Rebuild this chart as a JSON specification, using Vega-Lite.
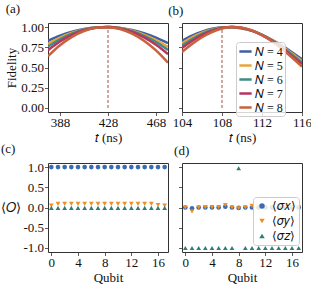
{
 "$schema": "https://vega.github.io/schema/vega-lite/v6.json",
 "padding": {"left": 0, "top": 2, "right": 0, "bottom": 2},
 "background": "white",
 "bounds": "flush",
 "columns": 2,
 "spacing": {"row": 51, "column": 14},
 "datasets": {
  "fa": [
   {"t":378,"F":0.83,"N":4},{"t":388,"F":0.893,"N":4},{"t":398,"F":0.942,"N":4},{"t":408,"F":0.976,"N":4},{"t":418,"F":0.995,"N":4},{"t":428,"F":1.0,"N":4},{"t":438,"F":0.989,"N":4},{"t":448,"F":0.964,"N":4},{"t":458,"F":0.924,"N":4},{"t":468,"F":0.869,"N":4},{"t":478,"F":0.80,"N":4},
   {"t":378,"F":0.79,"N":5},{"t":388,"F":0.869,"N":5},{"t":398,"F":0.929,"N":5},{"t":408,"F":0.971,"N":5},{"t":418,"F":0.994,"N":5},{"t":428,"F":1.0,"N":5},{"t":438,"F":0.987,"N":5},{"t":448,"F":0.956,"N":5},{"t":458,"F":0.907,"N":5},{"t":468,"F":0.839,"N":5},{"t":478,"F":0.754,"N":5},
   {"t":378,"F":0.758,"N":6},{"t":388,"F":0.848,"N":6},{"t":398,"F":0.918,"N":6},{"t":408,"F":0.966,"N":6},{"t":418,"F":0.993,"N":6},{"t":428,"F":1.0,"N":6},{"t":438,"F":0.985,"N":6},{"t":448,"F":0.949,"N":6},{"t":458,"F":0.892,"N":6},{"t":468,"F":0.815,"N":6},{"t":478,"F":0.716,"N":6},
   {"t":378,"F":0.714,"N":7},{"t":388,"F":0.821,"N":7},{"t":398,"F":0.903,"N":7},{"t":408,"F":0.960,"N":7},{"t":418,"F":0.992,"N":7},{"t":428,"F":1.0,"N":7},{"t":438,"F":0.982,"N":7},{"t":448,"F":0.940,"N":7},{"t":458,"F":0.873,"N":7},{"t":468,"F":0.781,"N":7},{"t":478,"F":0.665,"N":7},
   {"t":378,"F":0.64,"N":8},{"t":388,"F":0.775,"N":8},{"t":398,"F":0.879,"N":8},{"t":408,"F":0.951,"N":8},{"t":418,"F":0.991,"N":8},{"t":428,"F":0.999,"N":8},{"t":438,"F":0.975,"N":8},{"t":448,"F":0.919,"N":8},{"t":458,"F":0.831,"N":8},{"t":468,"F":0.711,"N":8},{"t":478,"F":0.559,"N":8}
  ],
  "fb": [
   {"t":104,"F":0.830,"N":4},{"t":105,"F":0.893,"N":4},{"t":106,"F":0.943,"N":4},{"t":107,"F":0.978,"N":4},{"t":108,"F":0.997,"N":4},{"t":109,"F":0.999,"N":4},{"t":110,"F":0.983,"N":4},{"t":111,"F":0.952,"N":4},{"t":112,"F":0.904,"N":4},{"t":113,"F":0.843,"N":4},{"t":114,"F":0.771,"N":4},{"t":115,"F":0.689,"N":4},{"t":116,"F":0.600,"N":4},
   {"t":104,"F":0.800,"N":5},{"t":105,"F":0.872,"N":5},{"t":106,"F":0.930,"N":5},{"t":107,"F":0.971,"N":5},{"t":108,"F":0.995,"N":5},{"t":109,"F":1.000,"N":5},{"t":110,"F":0.985,"N":5},{"t":111,"F":0.953,"N":5},{"t":112,"F":0.904,"N":5},{"t":113,"F":0.839,"N":5},{"t":114,"F":0.761,"N":5},{"t":115,"F":0.674,"N":5},{"t":116,"F":0.580,"N":5},
   {"t":104,"F":0.770,"N":6},{"t":105,"F":0.849,"N":6},{"t":106,"F":0.915,"N":6},{"t":107,"F":0.963,"N":6},{"t":108,"F":0.992,"N":6},{"t":109,"F":1.000,"N":6},{"t":110,"F":0.987,"N":6},{"t":111,"F":0.955,"N":6},{"t":112,"F":0.903,"N":6},{"t":113,"F":0.834,"N":6},{"t":114,"F":0.752,"N":6},{"t":115,"F":0.659,"N":6},{"t":116,"F":0.560,"N":6},
   {"t":104,"F":0.740,"N":7},{"t":105,"F":0.828,"N":7},{"t":106,"F":0.900,"N":7},{"t":107,"F":0.955,"N":7},{"t":108,"F":0.988,"N":7},{"t":109,"F":1.000,"N":7},{"t":110,"F":0.989,"N":7},{"t":111,"F":0.956,"N":7},{"t":112,"F":0.901,"N":7},{"t":113,"F":0.829,"N":7},{"t":114,"F":0.742,"N":7},{"t":115,"F":0.644,"N":7},{"t":116,"F":0.539,"N":7},
   {"t":104,"F":0.690,"N":8},{"t":105,"F":0.789,"N":8},{"t":106,"F":0.874,"N":8},{"t":107,"F":0.939,"N":8},{"t":108,"F":0.982,"N":8},{"t":109,"F":1.000,"N":8},{"t":110,"F":0.992,"N":8},{"t":111,"F":0.958,"N":8},{"t":112,"F":0.901,"N":8},{"t":113,"F":0.824,"N":8},{"t":114,"F":0.729,"N":8},{"t":115,"F":0.623,"N":8},{"t":116,"F":0.510,"N":8}
  ],
  "oc": [
   {"q":0,"v":1.0,"o":"x"},{"q":1,"v":1.0,"o":"x"},{"q":2,"v":1.0,"o":"x"},{"q":3,"v":1.0,"o":"x"},{"q":4,"v":1.0,"o":"x"},{"q":5,"v":1.0,"o":"x"},{"q":6,"v":1.0,"o":"x"},{"q":7,"v":1.0,"o":"x"},{"q":8,"v":1.0,"o":"x"},{"q":9,"v":1.0,"o":"x"},{"q":10,"v":1.0,"o":"x"},{"q":11,"v":1.0,"o":"x"},{"q":12,"v":1.0,"o":"x"},{"q":13,"v":1.0,"o":"x"},{"q":14,"v":1.0,"o":"x"},{"q":15,"v":1.0,"o":"x"},{"q":16,"v":1.0,"o":"x"},{"q":17,"v":1.0,"o":"x"},
   {"q":0,"v":0.05,"o":"y"},{"q":1,"v":0.09,"o":"y"},{"q":2,"v":0.09,"o":"y"},{"q":3,"v":0.09,"o":"y"},{"q":4,"v":0.09,"o":"y"},{"q":5,"v":0.09,"o":"y"},{"q":6,"v":0.09,"o":"y"},{"q":7,"v":0.09,"o":"y"},{"q":8,"v":0.09,"o":"y"},{"q":9,"v":0.09,"o":"y"},{"q":10,"v":0.09,"o":"y"},{"q":11,"v":0.09,"o":"y"},{"q":12,"v":0.09,"o":"y"},{"q":13,"v":0.09,"o":"y"},{"q":14,"v":0.09,"o":"y"},{"q":15,"v":0.09,"o":"y"},{"q":16,"v":0.06,"o":"y"},{"q":17,"v":0.05,"o":"y"},
   {"q":0,"v":-0.01,"o":"z"},{"q":1,"v":-0.01,"o":"z"},{"q":2,"v":-0.01,"o":"z"},{"q":3,"v":-0.01,"o":"z"},{"q":4,"v":-0.01,"o":"z"},{"q":5,"v":-0.01,"o":"z"},{"q":6,"v":-0.01,"o":"z"},{"q":7,"v":-0.01,"o":"z"},{"q":8,"v":-0.01,"o":"z"},{"q":9,"v":-0.01,"o":"z"},{"q":10,"v":-0.01,"o":"z"},{"q":11,"v":-0.01,"o":"z"},{"q":12,"v":-0.01,"o":"z"},{"q":13,"v":-0.01,"o":"z"},{"q":14,"v":-0.01,"o":"z"},{"q":15,"v":-0.01,"o":"z"},{"q":16,"v":-0.01,"o":"z"},{"q":17,"v":-0.01,"o":"z"}
  ],
  "od": [
   {"q":0,"v":0.0,"o":"x"},{"q":1,"v":-0.02,"o":"x"},{"q":2,"v":0.0,"o":"x"},{"q":3,"v":0.0,"o":"x"},{"q":4,"v":0.0,"o":"x"},{"q":5,"v":0.0,"o":"x"},{"q":6,"v":0.02,"o":"x"},{"q":7,"v":0.0,"o":"x"},{"q":8,"v":-0.01,"o":"x"},{"q":9,"v":0.0,"o":"x"},{"q":10,"v":0.0,"o":"x"},{"q":11,"v":0.0,"o":"x"},{"q":12,"v":0.0,"o":"x"},{"q":13,"v":0.0,"o":"x"},{"q":14,"v":0.0,"o":"x"},{"q":15,"v":0.0,"o":"x"},{"q":16,"v":0.0,"o":"x"},{"q":17,"v":0.0,"o":"x"},
   {"q":0,"v":0.0,"o":"y"},{"q":1,"v":-0.1,"o":"y"},{"q":2,"v":0.0,"o":"y"},{"q":3,"v":0.01,"o":"y"},{"q":4,"v":0.01,"o":"y"},{"q":5,"v":0.01,"o":"y"},{"q":6,"v":0.06,"o":"y"},{"q":7,"v":0.0,"o":"y"},{"q":8,"v":-0.02,"o":"y"},{"q":9,"v":0.0,"o":"y"},{"q":10,"v":0.04,"o":"y"},{"q":11,"v":0.0,"o":"y"},{"q":12,"v":0.0,"o":"y"},{"q":13,"v":0.0,"o":"y"},{"q":14,"v":0.0,"o":"y"},{"q":15,"v":0.0,"o":"y"},{"q":16,"v":0.0,"o":"y"},{"q":17,"v":0.01,"o":"y"},
   {"q":0,"v":-1.0,"o":"z"},{"q":1,"v":-1.0,"o":"z"},{"q":2,"v":-1.0,"o":"z"},{"q":3,"v":-1.0,"o":"z"},{"q":4,"v":-1.0,"o":"z"},{"q":5,"v":-1.0,"o":"z"},{"q":6,"v":-1.0,"o":"z"},{"q":7,"v":-1.0,"o":"z"},{"q":8,"v":0.97,"o":"z"},{"q":9,"v":-1.0,"o":"z"},{"q":10,"v":-1.0,"o":"z"},{"q":11,"v":-1.0,"o":"z"},{"q":12,"v":-1.0,"o":"z"},{"q":13,"v":-1.0,"o":"z"},{"q":14,"v":-1.0,"o":"z"},{"q":15,"v":-1.0,"o":"z"},{"q":16,"v":-1.0,"o":"z"},{"q":17,"v":-1.0,"o":"z"}
  ]
 },
 "concat": [
  {
   "width": 120, "height": 89,
   "title": {"text": "(a)", "frame": "bounds", "offset": 5},
   "layer": [
    {"data": {"name": "fa"},
     "mark": {"type": "line", "strokeWidth": 2.5, "interpolate": "monotone", "clip": true},
     "encoding": {
      "x": {"field": "t", "type": "quantitative", "scale": {"domain": [378, 478], "nice": false, "zero": false}, "axis": {"values": [388, 428, 468], "title": "𝑡 (ns)", "labelOverlap": false}},
      "y": {"field": "F", "type": "quantitative", "scale": {"domain": [-0.05, 1.05], "nice": false, "zero": false}, "axis": {"values": [0, 0.25, 0.5, 0.75, 1], "format": ".2f", "title": "Fidelity", "labelOverlap": false}},
      "color": {"field": "N", "type": "nominal", "scale": {"domain": [4, 5, 6, 7, 8], "range": ["#3f5fa3", "#e8a33a", "#3d8c85", "#b8335f", "#c8623c"]}, "legend": null}
     }},
    {"data": {"values": [{"t": 428, "F": 0, "F2": 1}]},
     "mark": {"type": "rule", "strokeDash": [3, 2], "color": "#a0503f", "strokeWidth": 1},
     "encoding": {
      "x": {"field": "t", "type": "quantitative", "scale": {"domain": [378, 478], "nice": false, "zero": false}, "axis": {"values": [388, 428, 468], "title": "𝑡 (ns)", "labelOverlap": false}},
      "y": {"field": "F", "type": "quantitative", "scale": {"domain": [-0.05, 1.05], "nice": false, "zero": false}, "axis": {"values": [0, 0.25, 0.5, 0.75, 1], "format": ".2f", "title": "Fidelity", "labelOverlap": false}},
      "y2": {"field": "F2"}}}
   ]
  },
  {
   "width": 120, "height": 89,
   "title": {"text": "(b)", "frame": "bounds", "dx": -4, "offset": 5},
   "layer": [
    {"data": {"name": "fb"},
     "mark": {"type": "line", "strokeWidth": 2.5, "interpolate": "monotone", "clip": true},
     "encoding": {
      "x": {"field": "t", "type": "quantitative", "scale": {"domain": [104, 116], "nice": false, "zero": false}, "axis": {"values": [104, 108, 112, 116], "title": "𝑡 (ns)", "labelOverlap": false}},
      "y": {"field": "F", "type": "quantitative", "scale": {"domain": [-0.05, 1.05], "nice": false, "zero": false}, "axis": {"values": [0, 0.25, 0.5, 0.75, 1], "labels": false, "title": null}},
      "color": {"field": "N", "type": "nominal", "scale": {"domain": [4, 5, 6, 7, 8], "range": ["#3f5fa3", "#e8a33a", "#3d8c85", "#b8335f", "#c8623c"]},
       "legend": {"orient": "none", "legendX": 54, "legendY": 19, "title": null, "labelExpr": "'𝑁 = ' + datum.label", "symbolType": "stroke", "symbolStrokeWidth": 2.5, "symbolSize": 150, "fillColor": "rgba(255,255,255,0.8)", "strokeColor": "#cccccc", "cornerRadius": 3, "padding": 2, "labelFontSize": 12, "rowPadding": -2, "labelOffset": 2, "labelLimit": 60}}
     }},
    {"data": {"values": [{"t": 108, "F": 0, "F2": 1}]},
     "mark": {"type": "rule", "strokeDash": [3, 2], "color": "#a0503f", "strokeWidth": 1},
     "encoding": {
      "x": {"field": "t", "type": "quantitative", "scale": {"domain": [104, 116], "nice": false, "zero": false}, "axis": {"values": [104, 108, 112, 116], "title": "𝑡 (ns)", "labelOverlap": false}},
      "y": {"field": "F", "type": "quantitative", "scale": {"domain": [-0.05, 1.05], "nice": false, "zero": false}, "axis": {"values": [0, 0.25, 0.5, 0.75, 1], "labels": false, "title": null}},
      "y2": {"field": "F2"}}}
   ]
  },
  {
   "width": 120, "height": 89,
   "title": {"text": "(c)", "frame": "bounds", "offset": 5},
   "data": {"name": "oc"},
   "mark": {"type": "point", "filled": true, "size": 22, "opacity": 1},
   "encoding": {
    "x": {"field": "q", "type": "quantitative", "scale": {"domain": [-0.5, 17.5], "nice": false, "zero": false}, "axis": {"values": [0, 4, 8, 12, 16], "title": "Qubit", "labelOverlap": false}},
    "y": {"field": "v", "type": "quantitative", "scale": {"domain": [-1.1, 1.1], "nice": false}, "axis": {"values": [-1, -0.5, 0, 0.5, 1], "labelExpr": "replace(format(datum.value, '.1f'), '−', '-')", "title": "⟨𝑂⟩", "titleAngle": 0, "titleAlign": "right", "titleBaseline": "middle", "titlePadding": 2, "labelOverlap": false}},
    "color": {"field": "o", "type": "nominal", "scale": {"domain": ["x", "y", "z"], "range": ["#3b6cb2", "#ee8f22", "#2f7d73"]}, "legend": null},
    "shape": {"field": "o", "type": "nominal", "scale": {"domain": ["x", "y", "z"], "range": ["circle", "triangle-down", "triangle-up"]}, "legend": null}
   }
  },
  {
   "width": 120, "height": 89,
   "title": {"text": "(d)", "frame": "bounds", "dx": -4, "offset": 5},
   "data": {"name": "od"},
   "mark": {"type": "point", "filled": true, "size": 22, "opacity": 1},
   "encoding": {
    "x": {"field": "q", "type": "quantitative", "scale": {"domain": [-0.5, 17.5], "nice": false, "zero": false}, "axis": {"values": [0, 4, 8, 12, 16], "title": "Qubit", "labelOverlap": false}},
    "y": {"field": "v", "type": "quantitative", "scale": {"domain": [-1.1, 1.1], "nice": false}, "axis": {"values": [-1, -0.5, 0, 0.5, 1], "labels": false, "title": null}},
    "color": {"field": "o", "type": "nominal", "scale": {"domain": ["x", "y", "z"], "range": ["#3b6cb2", "#ee8f22", "#2f7d73"]},
     "legend": {"orient": "none", "legendX": 71, "legendY": 34, "title": null, "labelExpr": "datum.label == 'x' ? '⟨𝜎𝑥⟩' : datum.label == 'y' ? '⟨𝜎𝑦⟩' : '⟨𝜎𝑧⟩'", "symbolSize": 30, "fillColor": "rgba(255,255,255,0.8)", "strokeColor": "#cccccc", "cornerRadius": 3, "padding": 3, "labelFontSize": 12, "rowPadding": 3}},
    "shape": {"field": "o", "type": "nominal", "scale": {"domain": ["x", "y", "z"], "range": ["circle", "triangle-down", "triangle-up"]},
     "legend": {"orient": "none", "legendX": 71, "legendY": 34, "title": null, "labelExpr": "datum.label == 'x' ? '⟨𝜎𝑥⟩' : datum.label == 'y' ? '⟨𝜎𝑦⟩' : '⟨𝜎𝑧⟩'", "symbolSize": 30, "fillColor": "rgba(255,255,255,0.8)", "strokeColor": "#cccccc", "cornerRadius": 3, "padding": 3, "labelFontSize": 12, "rowPadding": 3}}
   }
  }
 ],
 "resolve": {"scale": {"color": "independent", "shape": "independent", "x": "independent", "y": "independent"}},
 "config": {
  "font": "Liberation Serif",
  "view": {"stroke": "#333333", "strokeWidth": 1},
  "axis": {"grid": false, "domain": false, "tickColor": "#333333", "tickSize": 3.5, "tickWidth": 0.8, "labelFont": "Liberation Serif", "labelFontSize": 13, "labelColor": "#111111", "titleFont": "Liberation Serif", "titleFontSize": 13, "titleFontWeight": "normal", "titleColor": "#111111", "labelPadding": 1, "labelFlush": false, "labelOverlap": false, "titlePadding": 2},
  "title": {"font": "Liberation Serif", "fontSize": 13, "fontWeight": "normal", "anchor": "start", "color": "#111111"},
  "legend": {"labelFont": "Liberation Serif", "labelColor": "#111111"}
 }
}
